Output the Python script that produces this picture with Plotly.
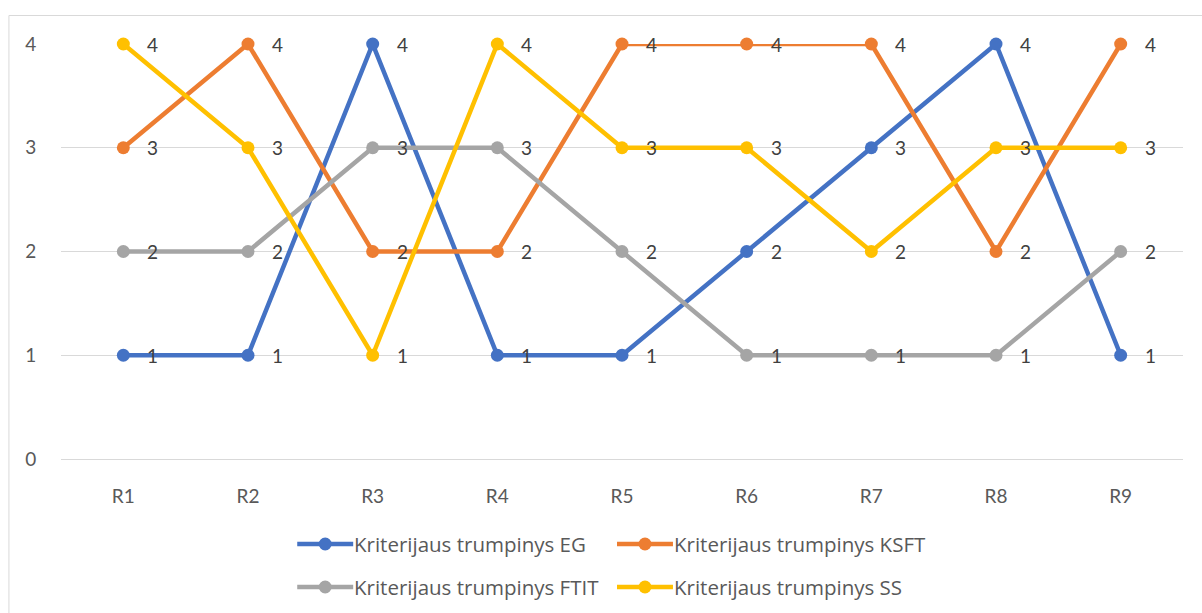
import plotly.graph_objects as go

categories = ["R1", "R2", "R3", "R4", "R5", "R6", "R7", "R8", "R9"]
eg = [1, 1, 4, 1, 1, 2, 3, 4, 1]
ksft = [3, 4, 2, 2, 4, 4, 4, 2, 4]
ftit = [2, 2, 3, 3, 2, 1, 1, 1, 2]
ss = [4, 3, 1, 4, 3, 3, 2, 3, 3]
y_ticks = [0, 1, 2, 3, 4]

series = [
    ("Kriterijaus trumpinys EG", eg, "#4472C4"),
    ("Kriterijaus trumpinys KSFT", ksft, "#ED7D31"),
    ("Kriterijaus trumpinys FTIT", ftit, "#A5A5A5"),
    ("Kriterijaus trumpinys SS", ss, "#FFC000"),
]

W, H = 1202, 613
ML, MR, MT, MB = 60.6, 18.6, 44, 154
PW, PH = W - ML - MR, H - MT - MB
FONT = "Lato"
LEGEND_FONT = "Open Sans"


def px_x(p):
    return (p - ML) / PW


def px_y(p):
    return (H - MB - p) / PH


fig = go.Figure()
annotations = []
for name, vals, color in series:
    fig.add_trace(go.Scatter(
        x=categories, y=vals, name=name, mode="lines+markers",
        line=dict(color=color, width=4.5),
        marker=dict(color=color, size=13),
        cliponaxis=False, showlegend=False,
    ))
    for c, v in zip(categories, vals):
        annotations.append(dict(
            x=c, y=v, xref="x", yref="y", text=str(v), showarrow=False,
            xanchor="left", yanchor="middle", xshift=22,
            font=dict(family=FONT, size=19, color="#404040"),
        ))

# hand-built legend: two rows of two entries
shapes = []
legend_pos = [(297, 544), (617, 544), (297, 587), (617, 587)]
for (name, vals, color), (lx, ly) in zip(series, legend_pos):
    shapes.append(dict(
        type="line", xref="paper", yref="paper",
        x0=px_x(lx), x1=px_x(lx + 56), y0=px_y(ly), y1=px_y(ly),
        line=dict(color=color, width=4.5),
    ))
    shapes.append(dict(
        type="circle", xref="paper", yref="paper",
        xsizemode="pixel", ysizemode="pixel",
        xanchor=px_x(lx + 28), yanchor=px_y(ly),
        x0=-6.5, x1=6.5, y0=-6.5, y1=6.5,
        fillcolor=color, line=dict(color=color, width=0),
    ))
    annotations.append(dict(
        x=px_x(lx + 55), y=px_y(ly), xref="paper", yref="paper",
        text=name, showarrow=False, xanchor="left", yanchor="middle",
        font=dict(family=LEGEND_FONT, size=20.5, color="#595959"),
    ))

# chart frame
shapes.append(dict(
    type="rect", xref="paper", yref="paper",
    x0=px_x(8.5), x1=px_x(1215), y0=px_y(630), y1=px_y(15.5),
    line=dict(color="#d9d9d9", width=1), fillcolor="rgba(0,0,0,0)",
    layer="below",
))

fig.update_layout(
    width=W, height=H,
    margin=dict(l=ML, r=MR, t=MT, b=MB),
    paper_bgcolor="white", plot_bgcolor="white",
    font=dict(family=FONT, size=19, color="#595959"),
    shapes=shapes, annotations=annotations,
    showlegend=False,
)
fig.update_xaxes(
    type="category", range=[-0.5, 8.5], showgrid=False, showline=False,
    zeroline=False, ticks="outside", ticklen=20, tickcolor="rgba(0,0,0,0)",
    tickfont=dict(family=FONT, size=19, color="#595959"),
)
fig.update_yaxes(
    range=[0, 4], tickvals=y_ticks, showgrid=True, gridcolor="#d9d9d9",
    gridwidth=1, zeroline=True, zerolinecolor="#d9d9d9", zerolinewidth=1,
    showline=False, ticks="outside", ticklen=20, tickcolor="rgba(0,0,0,0)",
    tickfont=dict(family=FONT, size=19, color="#595959"),
)

fig.write_html("out.html")
